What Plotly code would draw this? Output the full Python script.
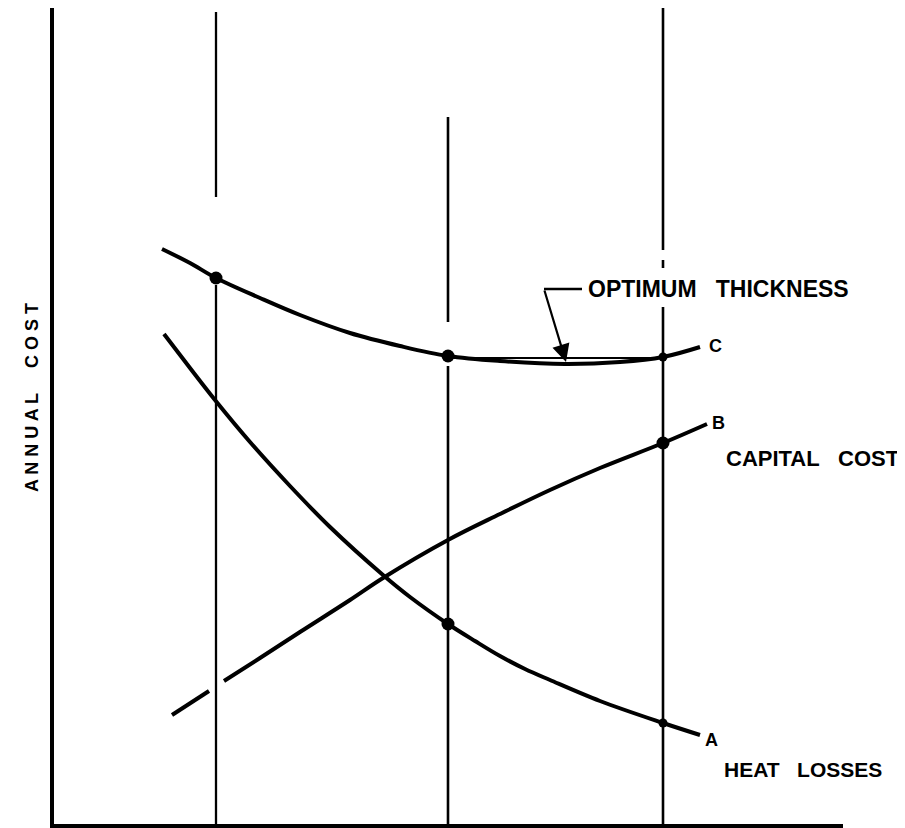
import plotly.graph_objects as go

# ---- data (thickness units on x, annual-cost units on y) ----
c_x = [108, 136, 162, 206, 246, 296, 346, 394, 446, 511, 566, 609, 646]
c_y = [575, 561, 546, 526, 509, 491, 478, 468, 463, 460, 462, 467, 477]

b_x = [118, 155, None, 170, 206, 246, 296, 329, 394, 446, 496, 546, 609, 653]
b_y = [109, 133, None, 143, 166, 192, 224, 246, 284, 310, 334, 356, 381, 400]

a_x = [110, 136, 161, 196, 236, 276, 329, 356, 394, 421, 446, 471, 496, 546, 609, 646]
a_y = [490, 456, 424, 382, 338, 297, 249, 227, 200, 183, 168, 155, 144, 123, 101, 89]

thick_x = [162, 394, 609]
line1_y = [812, 627, None, 539, 0]
line2_y = [707, 502, None, 458, 0]
line3_y = [816, 574, None, 564, 556, None, 517, 0]

dot_x = [162, 394, 394, 609]
dot_y = [546, 468, 200, 381]
half_x = [609, 609]
half_y = [467, 101]

chord_x = [394, 609]
chord_y = [466, 466]

leader_x = [528, 490]
leader_y = [535, 535]
arrow_tip = (512, 462)

label_c = (653, 478)
label_b = (656, 401)
label_a = (649, 84)
cap_pos = (670, 366)
heat_pos = (668, 55)
opt_pos = (532, 535)
ylab_pos = (-22, 426)

X_MAX = 789
Y_MAX = 816

BLACK = "black"
FONT = "Liberation Sans, Arial, Helvetica, sans-serif"

fig = go.Figure()

def seg(xv, yv, w):
    fig.add_trace(go.Scatter(x=[xv if y is not None else None for y in yv], y=yv,
                             mode="lines", line=dict(color=BLACK, width=w),
                             hoverinfo="skip", showlegend=False, connectgaps=False))

seg(thick_x[0], line1_y, 2.3)
seg(thick_x[1], line2_y, 2.6)
seg(thick_x[2], line3_y, 2.6)

for xs, ys in [(c_x, c_y), (b_x, b_y), (a_x, a_y)]:
    fig.add_trace(go.Scatter(x=xs, y=ys, mode="lines",
                             line=dict(color=BLACK, width=4, shape="spline", smoothing=1.0),
                             hoverinfo="skip", showlegend=False, connectgaps=False))

fig.add_trace(go.Scatter(x=chord_x, y=chord_y, mode="lines", line=dict(color=BLACK, width=2),
                         hoverinfo="skip", showlegend=False))
fig.add_trace(go.Scatter(x=leader_x, y=leader_y, mode="lines", line=dict(color=BLACK, width=2.5),
                         hoverinfo="skip", showlegend=False))

fig.add_trace(go.Scatter(x=dot_x, y=dot_y, mode="markers", marker=dict(color=BLACK, size=13),
                         hoverinfo="skip", showlegend=False))
fig.add_trace(go.Scatter(x=half_x, y=half_y, mode="markers", marker=dict(color=BLACK, size=9),
                         hoverinfo="skip", showlegend=False))

anns = []
anns.append(dict(x=arrow_tip[0], y=arrow_tip[1], ax=leader_x[1], ay=leader_y[1], axref="x", ayref="y",
                 xref="x", yref="y", text="", showarrow=True, arrowhead=2, arrowsize=1.6,
                 arrowwidth=2.2, arrowcolor=BLACK))

def txt(pos, s, size, **kw):
    d = dict(x=pos[0], y=pos[1], xref="x", yref="y", text=s, showarrow=False,
             xanchor="left", yanchor="middle",
             font=dict(family=FONT, size=size, color=BLACK, weight="bold"))
    d.update(kw)
    anns.append(d)

NB = "\u00a0"
txt(opt_pos, "OPTIMUM" + NB * 3 + "THICKNESS", 23)
txt(label_c, "C", 18)
txt(label_b, "B", 18)
txt(cap_pos, "CAPITAL" + NB * 3 + "COST", 22)
txt(label_a, "A", 18)
txt(heat_pos, "HEAT" + NB * 3 + "LOSSES", 21)
txt((ylab_pos[0] / X_MAX, ylab_pos[1] / Y_MAX), "A N N U A L" + NB * 5 + "C O S T", 18,
    textangle=-90, xanchor="center", xref="paper", yref="paper")

# page has an 8px body margin, so the figure is 8px smaller on each axis
fig.update_layout(
    width=897, height=820,
    margin=dict(l=46, r=62, t=0, b=4),
    paper_bgcolor="white", plot_bgcolor="white",
    annotations=anns,
    xaxis=dict(range=[0, X_MAX], showline=True, linewidth=4, linecolor=BLACK, showgrid=False,
               zeroline=False, showticklabels=False, ticks=""),
    yaxis=dict(range=[0, Y_MAX], showline=True, linewidth=4, linecolor=BLACK, showgrid=False,
               zeroline=False, showticklabels=False, ticks=""),
)

fig.write_html("out.html")
